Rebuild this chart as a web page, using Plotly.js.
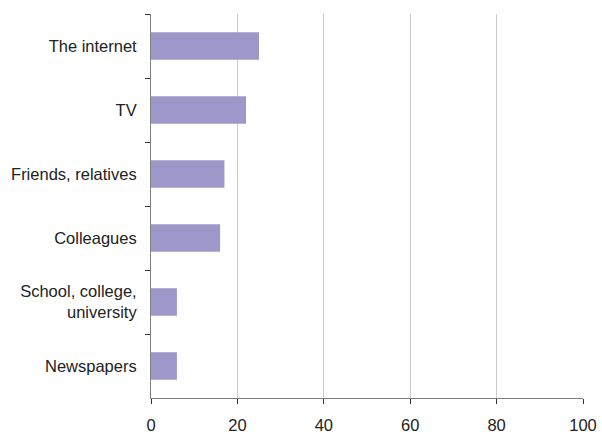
<!DOCTYPE html>
<html>
<head>
<meta charset="utf-8">
<script src="https://cdn.plot.ly/plotly-3.0.1.min.js"></script>
<style>html,body{margin:0;padding:0;background:#fff;}#chart{width:602px;height:435px;}</style>
</head>
<body>
<div id="chart"></div>
<script>
const categories = ["The internet", "TV", "Friends, relatives", "Colleagues", "School, college,<br>university", "Newspapers"];
const values = [25, 22, 17, 16, 6, 6];
const xTicks = [0, 20, 40, 60, 80, 100];

const trace = {
  type: "bar",
  orientation: "h",
  x: values,
  y: categories,
  marker: {color: "#9d98c9", line: {width: 0}},
  hoverinfo: "none"
};

const layout = {
  width: 602,
  height: 435,
  margin: {l: 151, r: 19, t: 14, b: 37, pad: 0},
  paper_bgcolor: "#ffffff",
  plot_bgcolor: "#ffffff",
  showlegend: false,
  bargap: 0.57,
  font: {family: "Liberation Sans, Arial, sans-serif", size: 16, color: "#222222"},
  xaxis: {
    range: [0, 100],
    tickvals: xTicks,
    ticktext: xTicks.map(String),
    showgrid: true,
    gridcolor: "#cccccc",
    gridwidth: 1,
    zeroline: false,
    showline: true,
    linecolor: "#7f7f7f",
    linewidth: 1,
    ticks: "outside",
    ticklen: 5,
    tickcolor: "#333333",
    ticklabelstandoff: 7,
    tickfont: {size: 16.5, color: "#222222"},
    fixedrange: true
  },
  yaxis: {
    type: "category",
    categoryorder: "array",
    categoryarray: categories,
    autorange: "reversed",
    showgrid: false,
    zeroline: false,
    showline: true,
    linecolor: "#7f7f7f",
    linewidth: 1,
    ticks: "outside",
    tickson: "boundaries",
    ticklen: 5,
    tickcolor: "#333333",
    ticklabelstandoff: 10,
    tickfont: {size: 16.5, color: "#222222"},
    fixedrange: true
  }
};

Plotly.newPlot("chart", [trace], layout, {displayModeBar: false, staticPlot: true});
</script>
</body>
</html>
